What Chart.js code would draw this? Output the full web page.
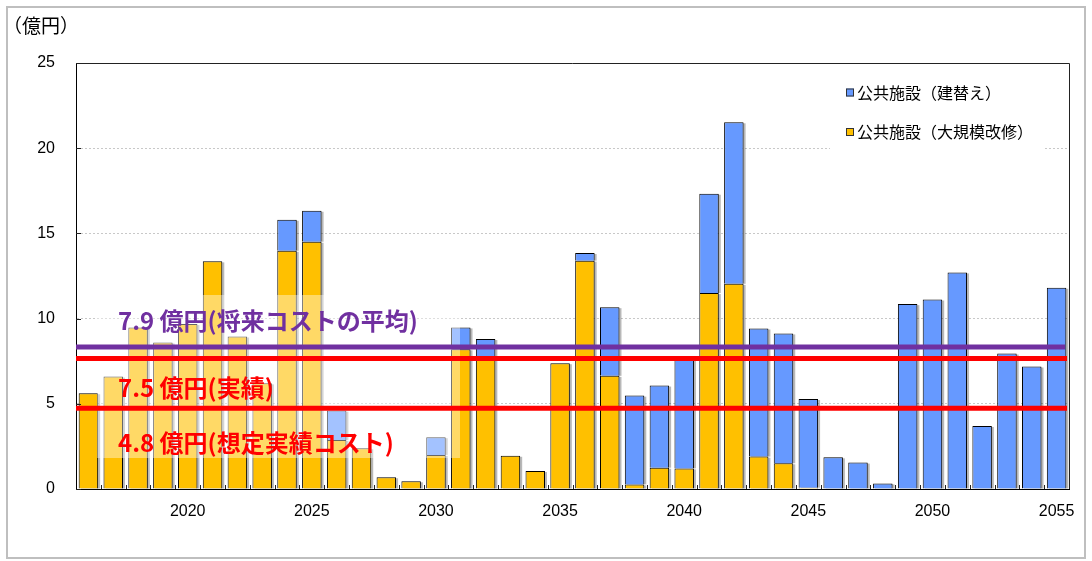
<!DOCTYPE html>
<html><head><meta charset="utf-8">
<script src="https://cdn.jsdelivr.net/npm/chart.js@4.4.1/dist/chart.umd.min.js"></script>
<style>html,body{margin:0;padding:0;background:#fff;}canvas{display:block;}</style>
</head><body>
<canvas id="c" width="1092" height="561"></canvas>
<script>
// ---- data ----
const years = ['2016','2017','2018','2019','2020','2021','2022','2023','2024','2025',
  '2026','2027','2028','2029','2030','2031','2032','2033','2034','2035',
  '2036','2037','2038','2039','2040','2041','2042','2043','2044','2045',
  '2046','2047','2048','2049','2050','2051','2052','2053','2054','2055'];
// 公共施設（大規模改修） — yellow, bottom segment
const renovation = [5.62,6.6,9.48,8.6,9.68,13.36,8.95,6.2,13.98,14.51,
  2.88,2.39,0.69,0.45,2.0,8.2,7.6,1.95,1.06,7.38,
  13.4,6.64,0.27,1.25,1.21,11.5,12.04,1.9,1.51,0.08,
  null,null,null,null,null,null,null,null,null,null];
// 公共施設（建替え） — blue, top segment
const rebuild = [null,null,null,null,null,null,null,null,1.82,1.82,
  1.72,null,null,null,1.04,1.28,1.2,null,null,null,
  0.45,4.03,5.21,4.82,6.39,5.83,9.48,7.52,7.62,5.2,
  1.86,1.55,0.33,10.85,11.12,12.71,3.70,7.95,7.19,11.81];
const seriesNames = ['公共施設（建替え）','公共施設（大規模改修）'];
const yTicks = [0,5,10,15,20,25];
const xTickYears = ['2020','2025','2030','2035','2040','2045','2050','2055'];
const unitLabel = '（億円）';
// reference lines: level on the axis, caption
const refLevels = [8.34, 7.66, 4.74];
const refCaptions = ['7.9 億円(将来コストの平均)','7.5 億円(実績)','4.8 億円(想定実績コスト)'];

const COL_BLUE = '#6699FF', COL_YEL = '#FFC000';
const REF_COLORS = ['#7030A0','#FF0000','#FF0000'];

const decor = {
  id: 'decor',
  beforeDraw(chart) {
    const ctx = chart.ctx;
    ctx.save();
    ctx.fillStyle = '#fff';
    ctx.fillRect(0, 0, chart.width, chart.height);
    ctx.strokeStyle = '#BFBFBF';
    ctx.lineWidth = 2;
    ctx.strokeRect(7, 7, 1078, 551);
    ctx.fillStyle = '#000';
    ctx.font = '19px "Noto Sans CJK JP"';
    ctx.textBaseline = 'middle';
    ctx.textAlign = 'left';
    ctx.fillText(unitLabel, 3, 26);
    ctx.restore();
  },
  beforeDatasetsDraw(chart) {
    const ctx = chart.ctx;
    ctx.save();
    ctx.fillStyle = 'rgba(0,0,0,0.28)';
    chart.data.datasets.forEach((ds, di) => {
      const meta = chart.getDatasetMeta(di);
      meta.data.forEach((el, i) => {
        if (ds.data[i] == null) return;
        const p = el.getProps(['x','y','base','width'], true);
        ctx.fillRect(p.x - p.width/2 + 2, p.y + 1, p.width, p.base - p.y - 1);
      });
    });
    ctx.restore();
  },
  afterDatasetsDraw(chart) {
    const ctx = chart.ctx;
    const a = chart.chartArea;
    const ys = chart.scales.y, xs = chart.scales.x;
    ctx.save();
    // frame top / right
    ctx.strokeStyle = '#222';
    ctx.lineWidth = 1;
    ctx.beginPath();
    ctx.moveTo(a.left, a.top + 0.5); ctx.lineTo(a.right + 0.5, a.top + 0.5);
    ctx.lineTo(a.right + 0.5, a.bottom);
    ctx.stroke();
    // inside tick marks
    ctx.beginPath();
    yTicks.forEach(v => {
      const py = Math.round(ys.getPixelForValue(v)) + 0.5;
      ctx.moveTo(a.left, py); ctx.lineTo(a.left + 5, py);
    });
    const half = (xs.getPixelForValue(1) - xs.getPixelForValue(0)) / 2;
    years.forEach((y, i) => {
      const px = Math.round(xs.getPixelForValue(i) + half) + 0.5;
      ctx.moveTo(px, a.bottom); ctx.lineTo(px, a.bottom - 4);
    });
    ctx.stroke();
    // translucent caption panel
    ctx.fillStyle = 'rgba(255,255,255,0.4)';
    ctx.fillRect(97, 295, 363, 163);
    // reference lines
    ctx.lineWidth = 5;
    refLevels.forEach((v, i) => {
      const py = ys.getPixelForValue(v);
      ctx.strokeStyle = REF_COLORS[i];
      ctx.beginPath();
      ctx.moveTo(a.left, py); ctx.lineTo(a.right - (i === 0 ? 4 : 2), py);
      ctx.stroke();
    });
    // captions
    ctx.font = 'bold 24px "Noto Sans CJK JP"';
    ctx.textBaseline = 'middle';
    ctx.textAlign = 'left';
    const capY = [321, 388, 443];
    refCaptions.forEach((t, i) => {
      ctx.fillStyle = REF_COLORS[i];
      ctx.fillText(t, 118, capY[i]);
    });
    ctx.restore();
  },
  afterDraw(chart) {
    const ctx = chart.ctx;
    ctx.save();
    ctx.fillStyle = '#fff';
    ctx.fillRect(830, 68, 215, 83);
    const items = [
      {name: seriesNames[0], color: COL_BLUE, y: 92.5},
      {name: seriesNames[1], color: COL_YEL, y: 132}
    ];
    ctx.font = '16px "Noto Sans CJK JP"';
    ctx.textBaseline = 'middle';
    ctx.textAlign = 'left';
    items.forEach(it => {
      ctx.fillStyle = it.color;
      ctx.fillRect(846, it.y - 4, 8, 8);
      ctx.strokeStyle = '#333';
      ctx.lineWidth = 1;
      ctx.strokeRect(846.5, it.y - 3.5, 7, 7);
      ctx.fillStyle = '#000';
      ctx.fillText(it.name, 857, it.y);
    });
    ctx.restore();
  }
};

new Chart(document.getElementById('c'), {
  type: 'bar',
  data: {
    labels: years,
    datasets: [
      {label: seriesNames[1], data: renovation, backgroundColor: COL_YEL, borderColor: '#000', borderWidth: 1, stack: 's'},
      {label: seriesNames[0], data: rebuild, backgroundColor: COL_BLUE, borderColor: '#000', borderWidth: 1, stack: 's'}
    ]
  },
  plugins: [decor],
  options: {
    responsive: false,
    animation: false,
    events: [],
    layout: {padding: {top: 63, right: 23, left: 0, bottom: 0}},
    datasets: {bar: {barPercentage: 0.785, categoryPercentage: 1.0}},
    plugins: {legend: {display: false}, tooltip: {enabled: false}},
    scales: {
      x: {
        stacked: true,
        grid: {display: false, drawTicks: false},
        border: {display: true, color: '#000', width: 1},
        ticks: {
          autoSkip: false, maxRotation: 0, padding: 13,
          color: '#000', font: {family: '"Liberation Sans", Arial', size: 16},
          callback: function(v, i) { const l = years[i]; return xTickYears.includes(l) ? l : ''; }
        },
        afterFit(s) { s.height = 72; }
      },
      y: {
        stacked: true,
        min: 0, max: 25,
        afterBuildTicks(s) { s.ticks = yTicks.map(v => ({value: v})); },
        grid: {
          drawTicks: false,
          color: (c) => (c.tick && (c.tick.value === 0 || c.tick.value === 25)) ? 'rgba(0,0,0,0)' : '#C8C8C8',
          lineWidth: 1
        },
        border: {display: true, color: '#000', width: 1, dash: [2, 2]},
        ticks: {padding: 21, color: '#000', font: {family: '"Liberation Sans", Arial', size: 16}},
        afterFit(s) { s.width = 76; }
      }
    }
  }
});
</script>
</body></html>
